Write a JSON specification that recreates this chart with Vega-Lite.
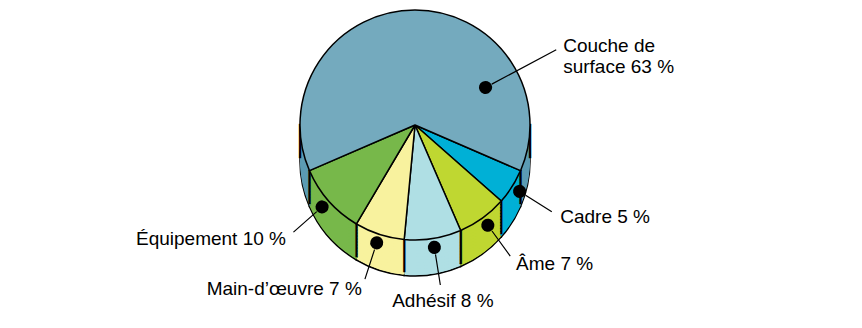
{
  "$schema": "https://vega.github.io/schema/vega-lite/v6.json",
  "width": 830,
  "height": 250,
  "autosize": {"type": "none"},
  "padding": {"left": 0, "top": 0, "right": 32, "bottom": 78},
  "background": "white",
  "config": {"view": {"stroke": null}, "text": {"font": "Liberation Sans", "fontSize": 19, "color": "#000000"}},
  "data": {"values": [
    {"poste": "Cadre", "part": 5, "etiquette": "Cadre 5 %"},
    {"poste": "Âme", "part": 7, "etiquette": "Âme 7 %"},
    {"poste": "Adhésif", "part": 8, "etiquette": "Adhésif 8 %"},
    {"poste": "Main-d’œuvre", "part": 7, "etiquette": "Main-d’œuvre 7 %"},
    {"poste": "Équipement", "part": 10, "etiquette": "Équipement 10 %"},
    {"poste": "Couche de surface", "part": 63, "etiquette": "Couche de\nsurface 63 %"}
  ]},
  "transform": [
    {"window": [{"op": "row_number", "as": "rang"}]},
    {"stack": "part", "groupby": [], "sort": [{"field": "rang", "order": "ascending"}], "as": ["debut", "fin"]}
  ],
  "encoding": {
    "theta": {"field": "part", "type": "quantitative", "stack": true, "scale": {"range": [1.9792, 8.2624]}},
    "order": {"field": "rang", "type": "quantitative"}
  },
  "resolve": {"scale": {"theta": "independent"}},
  "layer": [
    {"mark": {"type": "arc", "radius": 115, "yOffset": 36, "stroke": "black", "strokeWidth": 1.5},
     "encoding": {"fill": {"field": "poste", "type": "nominal", "legend": null,
       "scale": {"domain": ["Couche de surface", "Équipement", "Main-d’œuvre", "Adhésif", "Âme", "Cadre"],
                 "range": ["#5C9CB4", "#77B84A", "#F8F29E", "#AFDFE4", "#BFD731", "#00B0D6"]}}}},
    {"mark": {"type": "arc", "radius": 115, "yOffset": 35}, "encoding": {"fill": {"field": "poste", "type": "nominal", "legend": null}}},
    {"mark": {"type": "arc", "radius": 115, "yOffset": 32}, "encoding": {"fill": {"field": "poste", "type": "nominal", "legend": null}}},
    {"mark": {"type": "arc", "radius": 115, "yOffset": 29}, "encoding": {"fill": {"field": "poste", "type": "nominal", "legend": null}}},
    {"mark": {"type": "arc", "radius": 115, "yOffset": 26}, "encoding": {"fill": {"field": "poste", "type": "nominal", "legend": null}}},
    {"mark": {"type": "arc", "radius": 115, "yOffset": 23}, "encoding": {"fill": {"field": "poste", "type": "nominal", "legend": null}}},
    {"mark": {"type": "arc", "radius": 115, "yOffset": 20}, "encoding": {"fill": {"field": "poste", "type": "nominal", "legend": null}}},
    {"mark": {"type": "arc", "radius": 115, "yOffset": 17}, "encoding": {"fill": {"field": "poste", "type": "nominal", "legend": null}}},
    {"mark": {"type": "arc", "radius": 115, "yOffset": 14}, "encoding": {"fill": {"field": "poste", "type": "nominal", "legend": null}}},
    {"mark": {"type": "arc", "radius": 115, "yOffset": 11}, "encoding": {"fill": {"field": "poste", "type": "nominal", "legend": null}}},
    {"mark": {"type": "arc", "radius": 115, "yOffset": 8}, "encoding": {"fill": {"field": "poste", "type": "nominal", "legend": null}}},
    {"mark": {"type": "arc", "radius": 115, "yOffset": 5}, "encoding": {"fill": {"field": "poste", "type": "nominal", "legend": null}}},
    {"mark": {"type": "arc", "radius": 115, "yOffset": 2}, "encoding": {"fill": {"field": "poste", "type": "nominal", "legend": null}}},
    {"mark": {"type": "text", "radius": 115, "dy": 17, "text": "│", "font": "DejaVu Sans", "fontSize": 29, "align": "center", "baseline": "middle"},
     "encoding": {"theta": {"field": "debut", "type": "quantitative", "stack": null, "scale": {"domain": [0, 100], "range": [1.9792, 8.2624]}}}},
    {"mark": {"type": "text", "radius": 115, "dy": 17, "thetaOffset": 0.4084, "font": "DejaVu Sans", "fontSize": 29, "align": "center", "baseline": "middle"},
     "encoding": {"theta": {"field": "debut", "type": "quantitative", "stack": null, "scale": {"domain": [0, 100], "range": [1.9792, 8.2624]}},
       "text": {"condition": {"test": "datum.poste === 'Couche de surface'", "value": "│"}, "value": ""}}},
    {"mark": {"type": "text", "radius": 115, "dy": 17, "thetaOffset": 3.55, "font": "DejaVu Sans", "fontSize": 29, "align": "center", "baseline": "middle"},
     "encoding": {"theta": {"field": "debut", "type": "quantitative", "stack": null, "scale": {"domain": [0, 100], "range": [1.9792, 8.2624]}},
       "text": {"condition": {"test": "datum.poste === 'Couche de surface'", "value": "│"}, "value": ""}}},
    {"mark": {"type": "arc", "radius": 115, "stroke": "black", "strokeWidth": 1.5, "strokeJoin": "round"},
     "encoding": {"color": {"field": "poste", "type": "nominal", "legend": null,
       "scale": {"domain": ["Couche de surface", "Équipement", "Main-d’œuvre", "Adhésif", "Âme", "Cadre"],
                 "range": ["#74AABE", "#77B84A", "#F8F29E", "#AFDFE4", "#BFD731", "#00B0D6"]}}}},
    {"mark": {"type": "arc", "padAngle": 3, "radius2": 131, "radius": 162, "filled": false, "stroke": "black", "strokeWidth": 1.2},
     "encoding": {"strokeOpacity": {"condition": {"test": "datum.poste === 'Couche de surface'", "value": 0}, "value": 1}}},
    {"mark": {"type": "arc", "radius2": 87, "radius": 160, "filled": false, "stroke": "black", "strokeWidth": 1.2},
     "encoding": {"theta": {"field": "debut", "type": "quantitative", "stack": null, "scale": {"domain": [0, 100], "range": [5.040, 11.3232]}},
       "theta2": {"field": "debut"},
       "strokeOpacity": {"condition": {"test": "datum.poste === 'Couche de surface'", "value": 1}, "value": 0}}},
    {"mark": {"type": "arc", "padAngle": 3, "radius2": 123.8, "radius": 124, "filled": false, "stroke": "black", "strokeWidth": 13, "strokeCap": "round", "strokeJoin": "round"},
     "encoding": {"strokeOpacity": {"condition": {"test": "datum.poste === 'Couche de surface'", "value": 0}, "value": 1}}},
    {"mark": {"type": "arc", "radius2": 79.8, "radius": 80, "filled": false, "stroke": "black", "strokeWidth": 13, "strokeCap": "round", "strokeJoin": "round"},
     "encoding": {"theta": {"field": "debut", "type": "quantitative", "stack": null, "scale": {"domain": [0, 100], "range": [5.040, 11.3232]}},
       "theta2": {"field": "debut"},
       "strokeOpacity": {"condition": {"test": "datum.poste === 'Couche de surface'", "value": 1}, "value": 0}}},
    {"mark": {"type": "text", "radius": 172, "align": "left", "baseline": "middle"},
     "encoding": {"text": {"condition": {"test": "datum.poste === 'Cadre' || datum.poste === 'Âme'", "field": "etiquette", "type": "nominal"}, "value": ""}}},
    {"mark": {"type": "text", "radius": 178, "align": "center", "baseline": "middle"},
     "encoding": {"text": {"condition": {"test": "datum.poste === 'Adhésif'", "field": "etiquette", "type": "nominal"}, "value": ""}}},
    {"mark": {"type": "text", "radius": 172, "align": "right", "baseline": "middle"},
     "encoding": {"text": {"condition": {"test": "datum.poste === 'Main-d’œuvre' || datum.poste === 'Équipement'", "field": "etiquette", "type": "nominal"}, "value": ""}}},
    {"mark": {"type": "text", "radius": 168, "thetaOffset": 1.08, "align": "left", "baseline": "middle", "lineBreak": "\n"},
     "encoding": {"text": {"condition": {"test": "datum.poste === 'Couche de surface'", "field": "etiquette", "type": "nominal"}, "value": ""}}}
  ]
}
